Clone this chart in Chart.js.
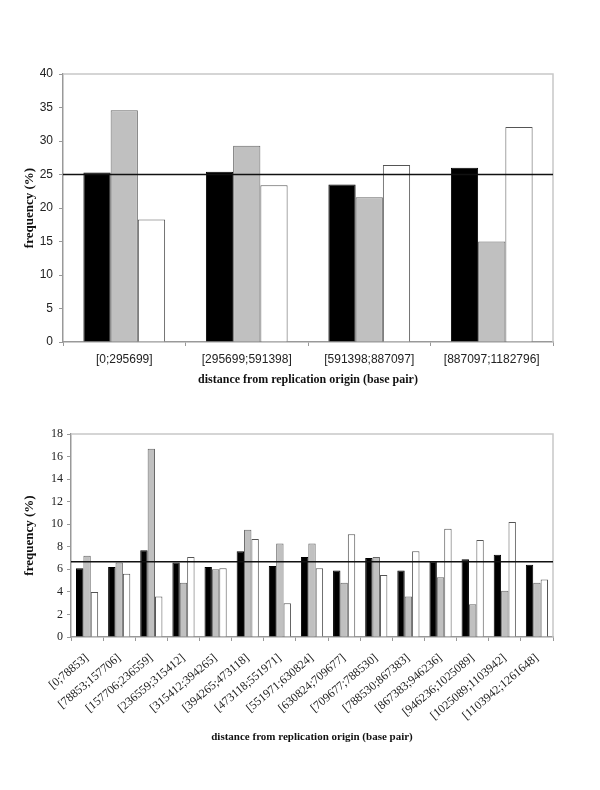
<!DOCTYPE html>
<html>
<head>
<meta charset="utf-8">
<script src="https://cdn.jsdelivr.net/npm/chart.js@4/dist/chart.umd.min.js"></script>
<style>
  body { margin: 0; background: #fff; }
  .box { position: absolute; left: 0; width: 600px; }
  #topBox { top: 0; height: 400px; }
  #bottomBox { top: 400px; height: 360px; }
</style>
</head>
<body>
<div class="box" id="topBox"><canvas id="topChart"></canvas></div>
<div class="box" id="bottomBox"><canvas id="bottomChart"></canvas></div>
<script>
// top panel: 4 windows
const topLabels = ["[0;295699]", "[295699;591398]", "[591398;887097]", "[887097;1182796]"];
const topBlack = [25.3, 25.4, 23.5, 26.0];
const topGray = [34.6, 29.3, 21.6, 15.0];
const topWhite = [18.3, 23.4, 26.4, 32.1];
const topReference = 25;

// bottom panel: 15 windows
const bottomLabels = [
  "[0;78853]", "[78853;157706]", "[157706;236559]", "[236559;315412]",
  "[315412;394265]", "[394265;473118]", "[473118;551971]", "[551971;630824]",
  "[630824;709677]", "[709677;788530]", "[788530;867383]", "[867383;946236]",
  "[946236;1025089]", "[1025089;1103942]", "[1103942;1261648]"
];
const bottomBlack = [6.1, 6.2, 7.7, 6.6, 6.2, 7.6, 6.3, 7.1, 5.9, 7.0, 5.9, 6.7, 6.9, 7.3, 6.4];
const bottomGray = [7.2, 6.6, 16.7, 4.8, 6.0, 9.5, 8.3, 8.3, 4.8, 7.1, 3.6, 5.3, 2.9, 4.1, 4.8];
const bottomWhite = [4.0, 5.6, 3.6, 7.1, 6.1, 8.7, 3.0, 6.1, 9.1, 5.5, 7.6, 9.6, 8.6, 10.2, 5.1];
const bottomReference = 6.67;

const xTitle = "distance from replication origin (base pair)";
const yTitle = "frequency (%)";

// horizontal reference line + light frame on top/right of plot
const refLinePlugin = {
  id: "refLine",
  afterDatasetsDraw(chart, args, opts) {
    const { ctx, chartArea } = chart;
    const y = chart.scales.y.getPixelForValue(opts.value);
    ctx.save();
    ctx.strokeStyle = "#c8c8c8";
    ctx.lineWidth = 1.5;
    ctx.beginPath();
    ctx.moveTo(chartArea.left, chartArea.top);
    ctx.lineTo(chartArea.right, chartArea.top);
    ctx.lineTo(chartArea.right, chartArea.bottom);
    ctx.stroke();
    ctx.strokeStyle = "#111";
    ctx.lineWidth = 1.6;
    ctx.beginPath();
    ctx.moveTo(chartArea.left, y);
    ctx.lineTo(chartArea.right, y);
    ctx.stroke();
    ctx.restore();
  }
};

function datasets(black, gray, white, bw) {
  return [
    { data: black, backgroundColor: "#000", borderColor: "#000", borderWidth: bw },
    { data: gray, backgroundColor: "#c0c0c0", borderColor: "#666", borderWidth: bw },
    { data: white, backgroundColor: "#fff", borderColor: "#555", borderWidth: bw }
  ];
}

function makeChart(id, cfg) {
  return new Chart(document.getElementById(id), {
    type: "bar",
    data: { labels: cfg.labels, datasets: datasets(cfg.black, cfg.gray, cfg.white, 1) },
    plugins: [refLinePlugin],
    options: {
      responsive: true,
      maintainAspectRatio: false,
      animation: false,
      categoryPercentage: cfg.catPct,
      barPercentage: 1,
      layout: { padding: { top: cfg.padTop, right: 47, left: 0, bottom: 0 } },
      plugins: {
        legend: { display: false },
        tooltip: { enabled: false },
        refLine: { value: cfg.ref }
      },
      scales: {
        x: {
          afterFit: s => { s.height = cfg.xHeight; },
          border: { color: "#999", width: 1.5 },
          grid: { drawOnChartArea: false, color: "#999", tickLength: 4, offset: true },
          ticks: {
            color: "#222",
            font: { family: cfg.tickFont, size: cfg.xTickSize },
            padding: cfg.xTickPad,
            minRotation: cfg.rotation,
            maxRotation: cfg.rotation,
            autoSkip: false
          },
          title: {
            display: true,
            text: xTitle,
            color: "#111",
            font: { family: "Liberation Serif", size: cfg.titleSize, weight: "bold" },
            padding: { top: 0, bottom: cfg.xTitlePad }
          }
        },
        y: {
          min: 0,
          max: cfg.yMax,
          afterFit: s => { s.width = cfg.yWidth; },
          border: { color: "#999", width: 1.5 },
          grid: { drawOnChartArea: false, color: "#999", tickLength: 4 },
          ticks: {
            stepSize: cfg.yStep,
            color: "#222",
            font: { family: cfg.tickFont, size: 12 },
            padding: cfg.yTickPad
          },
          title: {
            display: true,
            text: yTitle,
            color: "#111",
            font: { family: "Liberation Serif", size: 13, weight: "bold" },
            padding: { top: 22, bottom: 0 }
          }
        }
      }
    }
  });
}

makeChart("topChart", {
  labels: topLabels, black: topBlack, gray: topGray, white: topWhite, ref: topReference,
  catPct: 0.667, padTop: 74, xHeight: 58, yWidth: 63, yMax: 40, yStep: 5,
  tickFont: "Liberation Sans", xTickSize: 12, xTickPad: 6, rotation: 0,
  titleSize: 12, xTitlePad: 13, yTickPad: 6
});

makeChart("bottomChart", {
  labels: bottomLabels, black: bottomBlack, gray: bottomGray, white: bottomWhite, ref: bottomReference,
  catPct: 0.69, padTop: 34, xHeight: 123, yWidth: 71, yMax: 18, yStep: 2,
  tickFont: "Liberation Serif", xTickSize: 12, xTickPad: 10, rotation: 40,
  titleSize: 11, xTitlePad: 16, yTickPad: 4
});
</script>
</body>
</html>
